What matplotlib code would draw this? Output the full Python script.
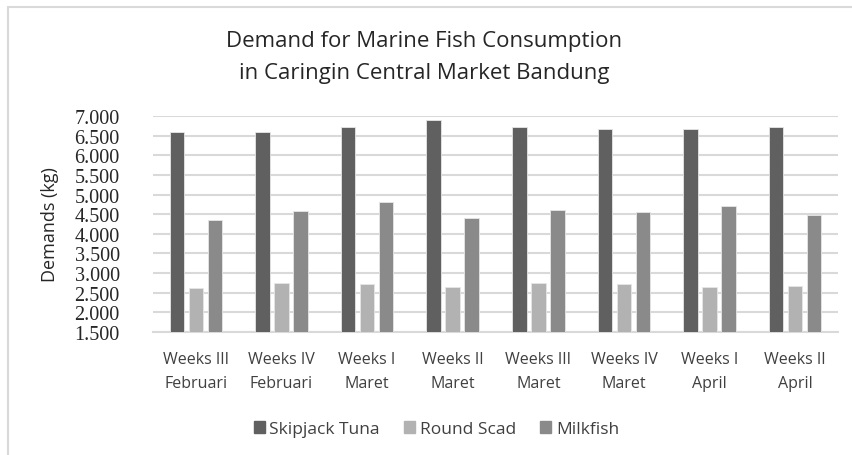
import matplotlib.pyplot as plt
import matplotlib.patches as mpatches
import numpy as np
from matplotlib.ticker import FuncFormatter

weeks = ['Weeks III\nFebruari', 'Weeks IV\nFebruari', 'Weeks I\nMaret', 'Weeks II\nMaret',
         'Weeks III\nMaret', 'Weeks IV\nMaret', 'Weeks I\nApril', 'Weeks II\nApril']
skipjack = [6590, 6590, 6730, 6890, 6730, 6680, 6680, 6730]
round_scad = [2630, 2745, 2710, 2650, 2745, 2710, 2650, 2680]
milkfish = [4340, 4585, 4805, 4400, 4615, 4560, 4720, 4480]

series = [('Skipjack Tuna', skipjack, '#606060'),
          ('Round Scad', round_scad, '#b2b2b2'),
          ('Milkfish', milkfish, '#8a8a8a')]

sans = ['Open Sans', 'DejaVu Sans']
serif = ['Liberation Serif', 'DejaVu Serif']

fig = plt.figure(figsize=(8.52, 4.56), dpi=100)
ax = fig.add_axes([153/852, 1 - 333/456, (838 - 153)/852, (333 - 117)/456])

x = np.arange(len(weeks))
step = 0.222
width = 0.17
for i, (name, vals, col) in enumerate(series):
    ax.bar(x + (i - 1) * step, np.array(vals) - 1500, width, bottom=1500,
           color=col, edgecolor='#e6e6e6', linewidth=0.6, label=name, zorder=3)

ax.set_xlim(-0.5, len(weeks) - 0.5)
ax.set_ylim(1500, 7000)
ax.set_yticks(np.arange(1500, 7001, 500))
ax.yaxis.set_major_formatter(FuncFormatter(lambda v, p: f'{v/1000:.3f}'))
ax.grid(axis='y', color='#d9d9d9', linewidth=1.5, zorder=0)
for s in ['top', 'right', 'left']:
    ax.spines[s].set_visible(False)
ax.spines['bottom'].set_color('#d9d9d9')
ax.spines['bottom'].set_linewidth(1.5)
ax.tick_params(length=0)
ax.tick_params(axis='y', pad=24, labelsize=14.5, labelcolor='#262626', labelfontfamily=serif)
ax.tick_params(axis='x', pad=14)
ax.set_xticks(x)
ax.set_xticklabels(weeks, fontfamily=sans, fontsize=11.5, color='#404040', linespacing=1.6,
                   multialignment='center')

ax.set_ylabel('Demands (kg)', fontfamily=sans, fontsize=13, color='#262626', labelpad=11)

fig.text(0.498, 1 - 42/456, 'Demand for Marine Fish Consumption', ha='center', va='center',
         fontfamily=sans, fontsize=16, color='#262626')
fig.text(0.498, 1 - 73/456, 'in Caringin Central Market Bandung', ha='center', va='center',
         fontfamily=sans, fontsize=16, color='#262626')

handles = [mpatches.Patch(color=c, label=n) for n, v, c in series]
fig.legend(handles=handles, loc='center', bbox_to_anchor=(0.512, 1 - 430/456), ncol=3,
           frameon=False, prop={'family': sans, 'size': 12.5}, handlelength=0.65,
           handleheight=0.65, handletextpad=0.25, columnspacing=1.4, labelcolor='#404040')

frame = mpatches.Rectangle((8/852, -0.1), 1.1, 1.1 - 8/456, transform=fig.transFigure,
                           fill=False, edgecolor='#d9d9d9', linewidth=1.5)
fig.patches.append(frame)

fig.savefig('out.png', dpi=100)
